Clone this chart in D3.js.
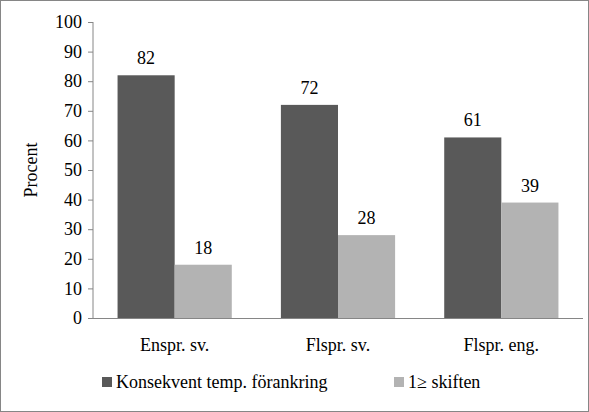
<!DOCTYPE html><html><head><meta charset="utf-8">
<script src="https://cdn.jsdelivr.net/npm/d3@7"></script>
<style>body{margin:0;background:#fff}text{font-family:"Liberation Serif","Times New Roman",serif !important}</style></head>
<body><svg id="c" width="589" height="412"></svg>
<script>
const categories=["Enspr. sv.","Flspr. sv.","Flspr. eng."];
const seriesNames=["Konsekvent temp. förankring","1≥ skiften"];
const konsekvent=[82,72,61];
const skiften=[18,28,39];
const tickValues=[0,10,20,30,40,50,60,70,80,90,100];
const colors=["#595959","#b3b3b3"];
const svg=d3.select("#c");
svg.append("rect").attr("x",0.5).attr("y",0.5).attr("width",588).attr("height",411).attr("fill","#fff").attr("stroke","#868686");
const x=d3.scaleBand().domain(categories).range([93,583]);
const xs=d3.scaleBand().domain([0,1]).range([0,x.bandwidth()]).paddingInner(0).paddingOuter(0.43);
const y=d3.scaleLinear().domain([0,100]).range([318,22]);
const ax=svg.append("g").attr("transform","translate(93,0)").call(d3.axisLeft(y).tickValues(tickValues).tickSize(5).tickPadding(6));
ax.attr("font-family","Liberation Serif").attr("font-size",18);
ax.selectAll("text").attr("fill","#000");
ax.selectAll("line,path").attr("stroke","#868686");
ax.select("path").attr("d","M0,22V318");
svg.append("line").attr("x1",93).attr("x2",583).attr("y1",318.5).attr("y2",318.5).attr("stroke","#868686");
const data=[konsekvent,skiften];
data.forEach((vals,s)=>{
 const g=svg.append("g");
 g.selectAll("rect").data(vals).join("rect")
  .attr("x",(d,i)=>x(categories[i])+xs(s)).attr("width",xs.bandwidth())
  .attr("y",d=>y(d)).attr("height",d=>318-y(d)).attr("fill",colors[s]);
 g.selectAll("text").data(vals).join("text")
  .attr("x",(d,i)=>x(categories[i])+xs(s)+xs.bandwidth()/2).attr("y",d=>y(d)-11)
  .attr("text-anchor","middle").attr("font-size",18).text(d=>d);
});
svg.selectAll(".cl").data(categories).join("text").attr("x",d=>x(d)+x.bandwidth()/2).attr("y",351)
 .attr("text-anchor","middle").attr("font-size",18).text(d=>d);
svg.append("text").attr("transform","translate(37,170) rotate(-90)").attr("text-anchor","middle").attr("font-size",18).text("Procent");
const lx=[102,394];
seriesNames.forEach((n,i)=>{
 svg.append("rect").attr("x",lx[i]).attr("y",377).attr("width",10).attr("height",10).attr("fill",colors[i]);
 svg.append("text").attr("x",lx[i]+14).attr("y",388).attr("font-size",18).text(n);
});
</script></body></html>
